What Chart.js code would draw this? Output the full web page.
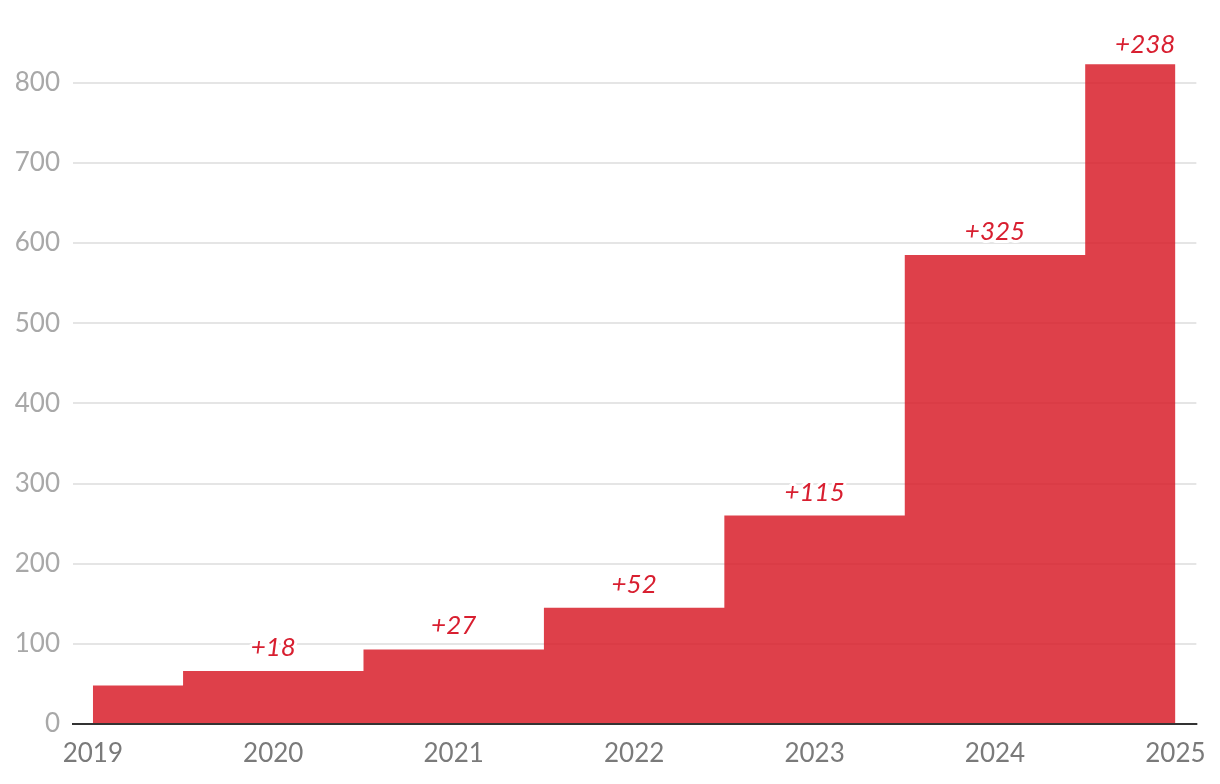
<!DOCTYPE html>
<html>
<head>
<meta charset="utf-8">
<script src="https://cdn.jsdelivr.net/npm/chart.js@4/dist/chart.umd.min.js"></script>
<style>
  html, body { margin: 0; padding: 0; background: #fff; }
  #wrap { width: 1220px; height: 784px; position: relative; }
</style>
</head>
<body>
<div id="wrap"><canvas id="c" width="1220" height="784"></canvas></div>
<script>
const years = [2019, 2020, 2021, 2022, 2023, 2024, 2025];
const totals = [48, 66, 93, 145, 260, 585, 823];
const deltas = [null, 18, 27, 52, 115, 325, 238];
const yTicks = [0, 100, 200, 300, 400, 500, 600, 700, 800];

const FONT = 'Lato, "Open Sans", sans-serif';

const labelPlugin = {
  id: 'deltaLabels',
  afterDatasetsDraw(chart) {
    const ctx = chart.ctx;
    const xs = chart.scales.x, ys = chart.scales.y;
    const area = chart.chartArea;
    ctx.save();
    ctx.strokeStyle = '#333';
    ctx.lineWidth = 2;
    ctx.beginPath();
    ctx.moveTo(area.left - 1, ys.getPixelForValue(0));
    ctx.lineTo(area.right + 1, ys.getPixelForValue(0));
    ctx.stroke();
    ctx.restore();

    ctx.save();
    ctx.font = 'italic 26px ' + FONT;
    ctx.textBaseline = 'alphabetic';
    deltas.forEach((d, i) => {
      if (d === null) return;
      const txt = '+' + d;
      const x = xs.getPixelForValue(years[i]);
      const last = i === years.length - 1;
      const y = ys.getPixelForValue(totals[i]) - (last ? 11 : 15);
      ctx.textAlign = last ? 'right' : 'center';
      ctx.lineJoin = 'round';
      ctx.strokeStyle = '#fff';
      ctx.lineWidth = 6;
      ctx.strokeText(txt, x, y);
      ctx.fillStyle = '#d81f30';
      ctx.fillText(txt, x, y);
    });
    ctx.restore();
  }
};

const data = years.map((yr, i) => ({ x: yr, y: totals[i] }));

new Chart(document.getElementById('c'), {
  type: 'line',
  data: {
    datasets: [{
      data: data,
      stepped: 'middle',
      fill: 'origin',
      backgroundColor: 'rgba(216,31,42,0.85)',
      borderWidth: 0,
      borderColor: 'rgba(0,0,0,0)',
      pointRadius: 0,
      pointHoverRadius: 0
    }]
  },
  options: {
    responsive: false,
    animation: false,
    events: [],
    layout: { padding: { top: 10, right: 23, left: 0, bottom: 0 } },
    plugins: { legend: { display: false }, tooltip: { enabled: false } },
    scales: {
      x: {
        type: 'linear',
        min: 2018.89,
        max: 2025.116,
        afterBuildTicks(scale) { scale.ticks = years.map(v => ({ value: v })); },
        afterFit(scale) { scale.height = 60; },
        grid: { display: false, drawTicks: false },
        border: { display: false },
        ticks: {
          autoSkip: false,
          maxRotation: 0,
          padding: 14,
          color: '#7a7a7a',
          font: { family: FONT, size: 26 },
          callback: v => String(v)
        }
      },
      y: {
        min: 0,
        max: 867.5,
        afterBuildTicks(scale) { scale.ticks = yTicks.map(v => ({ value: v })); },
        afterFit(scale) { scale.width = 73; },
        grid: {
          drawTicks: false,
          color: ctx => ctx.tick && ctx.tick.value === 0 ? 'rgba(0,0,0,0)' : '#e5e5e5',
          lineWidth: 2
        },
        border: { display: false },
        ticks: {
          padding: 13,
          color: '#a8a8a8',
          font: { family: FONT, size: 26 },
          callback: v => String(v)
        }
      }
    }
  },
  plugins: [labelPlugin]
});
</script>
</body>
</html>
